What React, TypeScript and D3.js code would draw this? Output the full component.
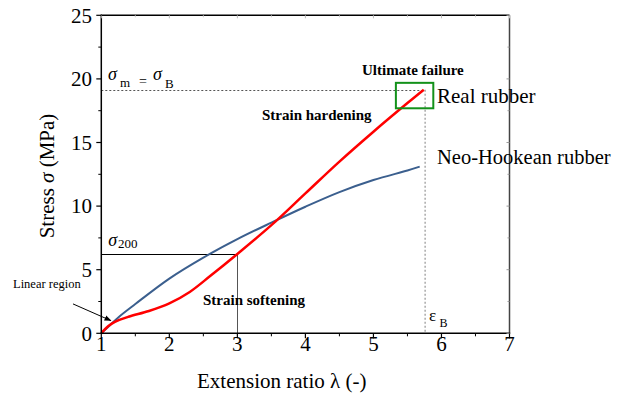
import React from 'react'
import * as d3 from 'd3'

// Real rubber (red) stress-strain curve
const realLambda = [1, 1.1, 1.2, 1.4, 1.7, 2.0, 2.3, 2.6, 3.0, 3.5, 4.0, 4.5, 5.0, 5.5, 5.74]
const realStress = [0, 0.55, 0.9, 1.3, 1.75, 2.35, 3.25, 4.5, 6.24, 8.5, 11.0, 13.5, 15.85, 18.1, 19.15]

// Neo-Hookean (blue) curve
const neoLambda = [1, 1.1, 1.25, 1.5, 2.0, 2.5, 3.0, 3.5, 4.0, 4.5, 5.0, 5.5, 5.68]
const neoStress = [0, 0.5, 1.25, 2.3, 4.3, 5.95, 7.4, 8.7, 9.95, 11.1, 12.05, 12.8, 13.1]

const xTicks = [1, 2, 3, 4, 5, 6, 7]
const yTicks = [0, 5, 10, 15, 20, 25]

// reference points marked on the chart
const sigmaB = 19.15
const epsB = 5.76
const sigma200 = 6.24
const lambda200 = 3

const W = 619
const H = 396
const FONT = "'Liberation Serif', 'Times New Roman', Times, serif"

export default function App() {
  const x = d3.scaleLinear().domain([1, 7]).range([101.3, 509.5])
  const y = d3.scaleLinear().domain([0, 25]).range([333.3, 15.3])

  const line = d3.line<[number, number]>()
    .x(d => x(d[0]))
    .y(d => y(d[1]))
    .curve(d3.curveCatmullRom.alpha(0.5))

  const realPath = line(realLambda.map((l, i) => [l, realStress[i]]))
  const neoPath = line(neoLambda.map((l, i) => [l, neoStress[i]]))

  const xMinor = d3.range(1.5, 7, 1)
  const yMinor = d3.range(2.5, 25, 5)
  const [x0, x1] = x.range()
  const [y0, y1] = y.range()
  const crisp = (v: number) => Math.round(v) + 0.5

  return (
    <svg width={W} height={H} style={{ position: 'absolute', left: 0, top: 0, background: '#fff', fontFamily: FONT }}>
      <defs>
        <marker id="arr" viewBox="0 0 10 10" refX="9" refY="5" markerWidth="7" markerHeight="7" orient="auto">
          <path d="M0,1 L10,5 L0,9 z" fill="#000" />
        </marker>
      </defs>

      {/* reference lines */}
      <line x1={x(1)} x2={x(epsB - 0.02)} y1={crisp(y(sigmaB))} y2={crisp(y(sigmaB))}
        stroke="#555" strokeWidth={1} strokeDasharray="2,2" />
      <line x1={x(epsB)} x2={x(epsB)} y1={y(sigmaB)} y2={y(0)}
        stroke="#aaa" strokeWidth={1.5} strokeDasharray="2,2" />
      <line x1={x(1)} x2={x(lambda200)} y1={crisp(y(sigma200))} y2={crisp(y(sigma200))} stroke="#000" strokeWidth={1} />
      <line x1={crisp(x(lambda200))} x2={crisp(x(lambda200))} y1={y(sigma200)} y2={y(0)} stroke="#555" strokeWidth={1} />

      {/* curves */}
      <path d={neoPath || ''} fill="none" stroke="#3b5f8e" strokeWidth={2} />
      <path d={realPath || ''} fill="none" stroke="#ff0000" strokeWidth={2.5} />

      {/* failure box */}
      <rect x={x(5.33)} y={y(19.69)} width={x(5.88) - x(5.33)} height={y(17.69) - y(19.69)}
        fill="none" stroke="#13911a" strokeWidth={2} />

      {/* frame */}
      <line x1={x0} x2={x1} y1={y1} y2={y1} stroke="#000" strokeWidth={1.5} />
      <line x1={x1} x2={x1} y1={y1} y2={y0} stroke="#444" strokeWidth={1.5} />
      <line x1={x0} x2={x1 + 0.7} y1={y0} y2={y0} stroke="#000" strokeWidth={1.5} />
      <line x1={x0} x2={x0} y1={y0 + 0.7} y2={y1 - 0.7} stroke="#000" strokeWidth={1.5} />

      {/* bottom ticks */}
      {xTicks.map(t => (
        <g key={'xt' + t}>
          <line x1={x(t)} x2={x(t)} y1={y0} y2={y0 + 5} stroke="#000" strokeWidth={1.2} />
          <line x1={x(t)} x2={x(t)} y1={y1} y2={y1 + 3} stroke="#bbb" strokeWidth={1} />
          <text x={x(t)} y={351} textAnchor="middle" fontSize={21}>{t}</text>
        </g>
      ))}
      {xMinor.map(t => (
        <g key={'xm' + t}>
          <line x1={x(t)} x2={x(t)} y1={y0} y2={y0 + 3} stroke="#000" strokeWidth={1} />
          <line x1={x(t)} x2={x(t)} y1={y1} y2={y1 + 2} stroke="#ccc" strokeWidth={1} />
        </g>
      ))}

      {/* left ticks */}
      {yTicks.map(t => (
        <g key={'yt' + t}>
          <line x1={x0 - 5} x2={x0} y1={y(t)} y2={y(t)} stroke="#000" strokeWidth={1.2} />
          <line x1={x1 - 3} x2={x1} y1={y(t)} y2={y(t)} stroke="#999" strokeWidth={1} />
          <text x={92} y={y(t)} dy="0.35em" textAnchor="end" fontSize={21}>{t}</text>
        </g>
      ))}
      {yMinor.map(t => (
        <g key={'ym' + t}>
          <line x1={x0 - 3} x2={x0} y1={y(t)} y2={y(t)} stroke="#000" strokeWidth={1} />
          <line x1={x1 - 2} x2={x1} y1={y(t)} y2={y(t)} stroke="#999" strokeWidth={1} />
        </g>
      ))}

      {/* axis titles */}
      <text x={197} y={388} fontSize={21}>Extension ratio λ (-)</text>
      <text transform="translate(54,176) rotate(-90)" textAnchor="middle" fontSize={21}>
        Stress <tspan fontStyle="italic">σ</tspan> (MPa)
      </text>

      {/* annotations */}
      <text x={108} y={80} fontSize={18}>
        <tspan fontStyle="italic">σ</tspan>
        <tspan x={120} y={87} fontSize={13}>m</tspan>
        <tspan x={139} y={86} fontSize={14}>=</tspan>
        <tspan x={153} y={80} fontStyle="italic">σ</tspan>
        <tspan x={165} y={88} fontSize={13}>B</tspan>
      </text>
      <text x={x(1) + 7} y={246} fontSize={18}>
        <tspan fontStyle="italic">σ</tspan>
        <tspan x={118} y={248} fontSize={13}>200</tspan>
      </text>
      <text x={429} y={321} fontSize={17}>
        ε<tspan x={439.5} y={327} fontSize={12}>B</tspan>
      </text>

      <text x={362} y={75} fontSize={15} fontWeight="bold">Ultimate failure</text>
      <text x={262} y={120} fontSize={15} fontWeight="bold">Strain hardening</text>
      <text x={203} y={305} fontSize={15} fontWeight="bold">Strain softening</text>
      <text x={437} y={103} fontSize={21}>Real rubber</text>
      <text x={437} y={164} fontSize={20.5}>Neo-Hookean rubber</text>
      <text x={13} y={288} fontSize={12.5}>Linear region</text>

      <line x1={x(0.584)} y1={y(2.31)} x2={x(1.14)} y2={y(1.0)} stroke="#000" strokeWidth={1}
        markerEnd="url(#arr)" />
    </svg>
  )
}
